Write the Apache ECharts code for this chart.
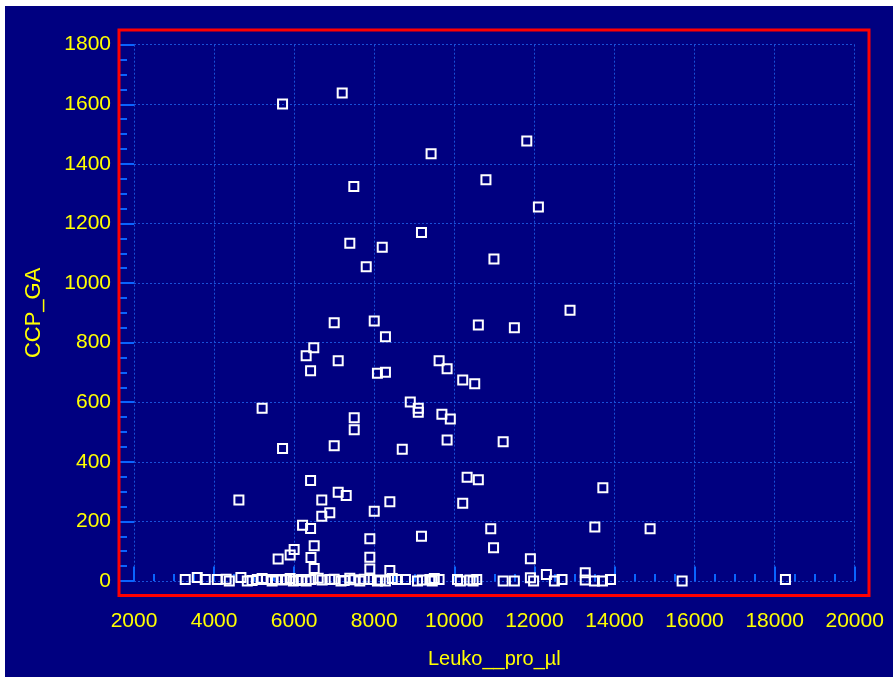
<!DOCTYPE html>
<html><head><meta charset="utf-8">
<script src="https://cdn.jsdelivr.net/npm/echarts@6/dist/echarts.min.js"></script>
<style>
html,body{margin:0;padding:0;background:#ffffff;}
#c{position:absolute;left:5px;top:6px;width:888px;height:671px;}
</style>
</head><body><div id="c"></div>
<script>
// Leukocytes per µl (x) and CCP_GA (y)
const leuko = [
 5710,7200,7490,7390,7800,9420,11810,10790,12100,9180,8200,10990,
 7000,6490,6300,7100,6410,5200,7500,7500,7000,5710,6410,7100,7300,4620,6690,6890,6690,6210,6410,7890,
 8000,8280,10600,11500,12890,9620,9820,8080,8280,10210,10510,8900,9100,9100,9690,9900,9820,8700,11220,
 10320,10600,13710,8390,8000,10210,10910,13510,9180,14890,10980,11900,7890,7890,8390,6500,6420,6500,6000,5900,5600,
 3280,3580,3780,4080,4300,4380,4670,4830,5080,5310,5560,5810,5980,6180,6420,6600,6890,7170,7390,7640,7890,8080,8280,
 8580,8780,9080,9390,9620,9450,10080,10390,10560,11220,11500,11900,11980,12300,12500,12690,13270,13270,13500,13700,13900,15690,18270,
 4950,5200,5450,5700,5900,6100,6300,6700,7000,7250,7500,7750,8150,8450,9200,9500,10150,10470
];
const ccp = [
 1601,1638,1324,1134,1055,1434,1477,1347,1255,1170,1120,1081,
 867,783,756,739,706,580,548,508,454,445,337,298,287,272,272,229,217,187,176,142,
 873,820,859,850,909,739,712,697,701,675,662,601,580,566,560,544,473,442,467,
 348,340,313,266,234,261,175,181,150,175,112,75,80,40,35,42,79,118,106,87,74,
 5,12,5,5,6,0,12,0,5,5,5,5,0,5,5,9,5,0,9,0,5,0,0,
 5,5,0,5,5,0,5,3,5,0,0,11,0,22,0,5,28,3,0,0,5,0,5,
 2,8,0,3,8,2,0,3,6,2,4,6,3,8,3,8,0,0
];
const xMin = 2000, xMax = 20000, xStep = 2000;
const yMin = 0, yMax = 1800, yStep = 200;
const xName = 'Leuko__pro_µl';
const yName = 'CCP_GA';

const points = leuko.map((x, i) => [x, ccp[i]]);

const G = {left: 129, top: 38.7, right: 38.3, bottom: 96};
const W = 888, H = 671;
const gw = W - G.left - G.right, gh = H - G.top - G.bottom;

const yellow = '#ffff00';
const tickBlue = '#0a64ff';
const gridBlue = '#1850d8';
const font = "'Liberation Sans',Arial,sans-serif";
const plain = v => String(v);

const chart = echarts.init(document.getElementById('c'), null, {renderer: 'canvas'});
chart.setOption({
  backgroundColor: '#000080',
  animation: false,
  grid: {left: G.left, top: G.top, right: G.right, bottom: G.bottom, containLabel: false},
  xAxis: {
    type: 'value', min: xMin, max: xMax, interval: xStep, offset: 14.5,
    name: xName, nameLocation: 'middle', nameGap: 54,
    nameTextStyle: {color: yellow, fontSize: 20, fontFamily: font},
    axisLine: {show: false},
    axisTick: {show: true, inside: true, length: 14.5, lineStyle: {color: tickBlue, width: 2}},
    minorTick: {show: true, splitNumber: 4, length: 7, lineStyle: {color: tickBlue, width: 2}},
    axisLabel: {color: yellow, fontSize: 21, fontFamily: font, margin: 15, formatter: plain, showMinLabel: true, showMaxLabel: true},
    splitLine: {show: true, lineStyle: {color: gridBlue, width: 1, type: [2, 2]}}
  },
  yAxis: {
    type: 'value', min: yMin, max: yMax, interval: yStep, offset: 15,
    name: yName, nameLocation: 'middle', nameGap: 74, nameRotate: 90,
    nameTextStyle: {color: yellow, fontSize: 22, fontFamily: font},
    axisLine: {show: false},
    axisTick: {show: true, inside: true, length: 15, lineStyle: {color: tickBlue, width: 2}},
    minorTick: {show: true, splitNumber: 4, length: 8, lineStyle: {color: tickBlue, width: 2}},
    axisLabel: {color: yellow, fontSize: 21, fontFamily: font, margin: 8, formatter: plain, showMinLabel: true, showMaxLabel: true},
    splitLine: {show: true, lineStyle: {color: gridBlue, width: 1, type: [2, 2]}}
  },
  graphic: [{
    type: 'rect', z: 100, silent: true,
    shape: {x: G.left - 15, y: G.top - 14.7, width: gw + 29.3, height: gh + 29.2},
    style: {fill: 'none', stroke: '#ff0000', lineWidth: 3}
  }],
  series: [{
    type: 'scatter', data: points, clip: false,
    symbol: 'rect', symbolSize: 9,
    itemStyle: {color: 'rgba(0,0,0,0)', borderColor: '#ffffff', borderWidth: 2, opacity: 1}
  }]
});
</script>
</body></html>
